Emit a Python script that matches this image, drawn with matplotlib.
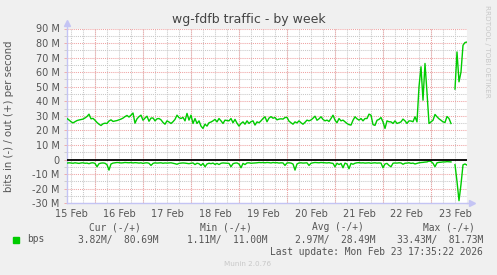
import numpy as np
import pandas as pd
import matplotlib
matplotlib.use('Agg')
import matplotlib.pyplot as plt
import matplotlib.dates as mdates
from matplotlib.ticker import MultipleLocator, FuncFormatter

# hourly samples, 15 Feb 10:00 -> 23 Feb 18:00
start = '2026-02-15 10:00'

# bits out (+), in M
out_bps = [
    28.2, 27.2, 26.0, 25.2, 26.0, 26.8, 27.2, 27.5, 27.8, 28.6,
    29.6, 31.2, 28.0, 28.3, 27.0, 25.5, 24.3, 23.4, 24.6, 25.0,
    24.8, 26.5, 27.3, 26.2, 26.5, 26.8, 27.3, 27.8, 28.5, 29.5,
    30.3, 29.2, 30.5, 32.0, 25.0, 28.0, 29.5, 30.5, 27.0, 28.5,
    29.8, 26.3, 28.5, 28.6, 26.6, 28.0, 28.2, 27.3, 25.5, 24.3,
    26.6, 25.8, 24.8, 26.0, 27.6, 30.5, 28.8, 28.2, 29.0, 26.6,
    31.7, 27.1, 30.5, 24.8, 28.2, 24.8, 26.6, 23.0, 21.4, 24.3,
    23.0, 25.3, 25.8, 26.6, 27.6, 25.9, 28.2, 26.6, 24.8, 27.1,
    26.8, 26.6, 28.2, 25.3, 27.6, 25.0, 23.0, 24.8, 25.9, 24.3,
    26.6, 24.8, 26.0, 26.6, 23.7, 25.9, 25.3, 26.6, 28.2, 29.4,
    26.0, 28.5, 29.5, 28.4, 28.9, 27.3, 27.8, 28.0, 27.8, 28.9,
    29.0, 26.4, 25.3, 24.3, 25.9, 25.2, 26.6, 25.3, 24.3, 25.6,
    27.1, 26.6, 27.2, 28.4, 29.8, 27.0, 28.0, 29.4, 27.6, 26.6,
    27.1, 26.2, 28.2, 30.5, 27.1, 25.3, 28.2, 26.6, 27.1, 25.9,
    24.8, 24.0, 23.7, 27.0, 29.4, 28.0, 27.1, 28.2, 26.6, 28.2,
    28.2, 31.2, 30.5, 24.0, 23.5, 27.0, 27.6, 28.9, 25.9, 21.4,
    26.6, 26.0, 25.9, 24.8, 26.6, 24.8, 25.3, 25.9, 27.8, 26.6,
    24.8, 26.6, 26.5, 26.0, 29.4, 25.9, 50.0, 63.7, 40.8, 66.0,
    46.0, 24.8, 25.9, 27.0, 31.0, 29.4, 28.0, 27.0, 25.9, 25.5,
    29.6, 28.2, 24.8, np.nan, 48.4, 73.9, 53.4, 60.2, 78.5, 80.4,
    80.7,
]

# bits in (-), in M (drawn below zero)
in_bps = [
    2.4, 2.2, 2.3, 2.5, 2.2, 2.4, 2.6, 2.3, 2.2, 2.5,
    2.4, 2.8, 2.3, 2.2, 2.6, 4.9, 2.8, 2.4, 2.3, 2.5,
    3.5, 7.2, 3.0, 2.4, 2.2, 2.0, 2.1, 2.3, 2.2, 2.0,
    2.1, 2.2, 2.0, 2.3, 2.1, 2.2, 2.4, 2.2, 2.6, 2.3,
    2.2, 2.5, 4.0, 2.6, 2.2, 2.4, 2.3, 2.2, 2.5, 2.3,
    2.4, 2.3, 2.2, 2.5, 2.8, 3.2, 2.6, 2.4, 2.3, 2.4,
    2.6, 2.8, 2.5, 2.3, 3.4, 2.5, 2.8, 4.0, 2.6, 4.9,
    3.0, 2.5, 2.8, 2.4, 3.3, 2.6, 3.4, 2.5, 2.3, 2.4,
    2.5, 2.6, 4.9, 2.8, 2.4, 2.3, 3.0, 5.6, 2.6, 3.4,
    2.3, 2.2, 2.5, 2.4, 2.3, 2.2, 2.0, 2.1, 2.0, 2.2,
    2.0, 2.1, 2.3, 2.0, 2.2, 2.1, 2.4, 2.2, 2.3, 4.0,
    2.3, 2.2, 2.4, 3.0, 7.2, 3.0, 2.3, 2.2, 2.4, 2.3,
    2.2, 4.0, 2.5, 2.2, 2.0, 2.1, 2.2, 2.0, 2.1, 2.2,
    2.3, 2.1, 2.4, 2.6, 4.9, 2.5, 3.4, 2.6, 5.6, 2.4,
    3.0, 6.3, 2.6, 3.2, 2.5, 2.2, 2.1, 2.3, 2.2, 2.4,
    2.3, 2.2, 2.5, 2.3, 2.2, 2.4, 2.3, 2.4, 5.6, 3.0,
    2.6, 4.0, 4.9, 2.5, 2.3, 2.4, 2.2, 2.3, 3.2, 2.5,
    2.4, 2.2, 2.6, 2.4, 3.0, 2.6, 2.2, 2.0, 1.9, 1.7,
    1.6, 1.0, 1.3, 2.5, 4.9, 2.2, 1.9, 1.8, 1.6, 1.6,
    1.4, 1.5, 1.6, np.nan, 3.5, 15.0, 28.2, 17.0, 3.6, 3.0,
    3.8,
]

# legend numbers (in / out)
stat_names = ['Cur', 'Min', 'Avg', 'Max']
stat_in = ['3.82', '1.11', '2.97', '33.43']
stat_out = ['80.69', '11.00', '28.49', '81.73']

t = pd.date_range(start, periods=len(out_bps), freq='h')
out_v = np.array(out_bps)
in_v = -np.array(in_bps)

W, H = 497, 275
fig = plt.figure(figsize=(W / 100, H / 100), dpi=100, facecolor='#F0F0F0')
ax = fig.add_axes([67 / W, (H - 203.3) / H, 400 / W, 174.8 / H])
ax.set_facecolor('white')

green = '#00CC00'
red_grid = '#EFA3A3'
gray_grid = '#C8C8C8'
axis_col = '#C4C4F4'
txt = '#555555'

ax.plot(t, out_v, color=green, lw=1.0, zorder=3)
ax.plot(t, in_v, color=green, lw=1.0, zorder=3)
ax.axhline(0, color='black', lw=1.3, zorder=4)

ax.set_xlim(t[0], t[-1])
ax.set_ylim(-30, 90)

# y axis: red every 10M, gray every 5M
ax.yaxis.set_major_locator(MultipleLocator(10))
ax.yaxis.set_minor_locator(MultipleLocator(5))
ax.yaxis.set_major_formatter(FuncFormatter(lambda v, p: '0' if v == 0 else '%d M' % v))

# x axis: labels at noon, gray grid every 6h, red at midnight
ax.xaxis.set_major_locator(mdates.HourLocator(byhour=[12]))
ax.xaxis.set_major_formatter(mdates.DateFormatter('%d %b'))
ax.xaxis.set_minor_locator(mdates.HourLocator(byhour=[0, 6, 12, 18]))
ax.xaxis.remove_overlapping_locs = False

dots = (0, (1, 1))
ax.grid(which='minor', color=gray_grid, ls=dots, lw=0.75, zorder=1)
ax.grid(which='major', axis='y', color=red_grid, ls=dots, lw=0.75, zorder=2)
for d in pd.date_range('2026-02-16', '2026-02-23', freq='D'):
    ax.axvline(d, color=red_grid, ls=dots, lw=0.75, zorder=2)

ax.tick_params(which='both', length=0, labelsize=7, colors=txt, pad=3)
ax.tick_params(axis='y', which='both', length=2.2, width=0.6, color=gray_grid, pad=3)
ax.tick_params(axis='y', which='major', color=red_grid)
ax.tick_params(axis='x', pad=4)
for s in ['top', 'right']:
    ax.spines[s].set_visible(False)
for s in ['left', 'bottom']:
    ax.spines[s].set_color(axis_col)
    ax.spines[s].set_linewidth(1.0)
ax.plot([0, 0], [1.0, 1.03], color=axis_col, lw=1.0, transform=ax.transAxes, clip_on=False)
ax.plot([0], [1.03], marker='^', ms=4, color=axis_col, transform=ax.transAxes, clip_on=False)
ax.plot([1.0, 1.012], [0, 0], color=axis_col, lw=1.0, transform=ax.transAxes, clip_on=False)
ax.plot([1.012], [0], marker='>', ms=4, color=axis_col, transform=ax.transAxes, clip_on=False)

ax.set_ylabel('bits in (-) / out (+) per second', fontsize=7.3, color=txt, labelpad=13)

fig.text(248.5 / W, 1 - 19 / H, 'wg-fdfb traffic - by week', ha='center', va='center',
         fontsize=9, color='#444444')
fig.text(487 / W, 1 - 5 / H, 'RRDTOOL / TOBI OETIKER', rotation=270, ha='center', va='top',
         fontsize=5.2, color='#C8C8C8')

# legend block
mono = dict(family='DejaVu Sans Mono', fontsize=6.9, color=txt, va='center')
head_x = [89, 200, 311.7, 422.7]
val_x = [78, 187, 295, 396.7]
for name, hx in zip(stat_names, head_x):
    fig.text(hx / W, 1 - 227.5 / H, '%s (-/+)' % name, **mono)
for a, b, vx in zip(stat_in, stat_out, val_x):
    fig.text(vx / W, 1 - 239.5 / H, '%sM/  %sM' % (a, b), **mono)
fig.patches.append(plt.Rectangle((13 / W, 1 - 242.5 / H), 6 / W, 6 / H, color=green,
                                 transform=fig.transFigure, figure=fig))
fig.text(27 / W, 1 - 239.5 / H, 'bps', **mono)
fig.text(482.7 / W, 1 - 251.7 / H, 'Last update: Mon Feb 23 17:35:22 2026', ha='right', **mono)
fig.text(248 / W, 1 - 264 / H, 'Munin 2.0.76', ha='center', va='center', fontsize=5.2,
         color='#C8C8C8')

fig.savefig('out.png', dpi=100, facecolor=fig.get_facecolor())
